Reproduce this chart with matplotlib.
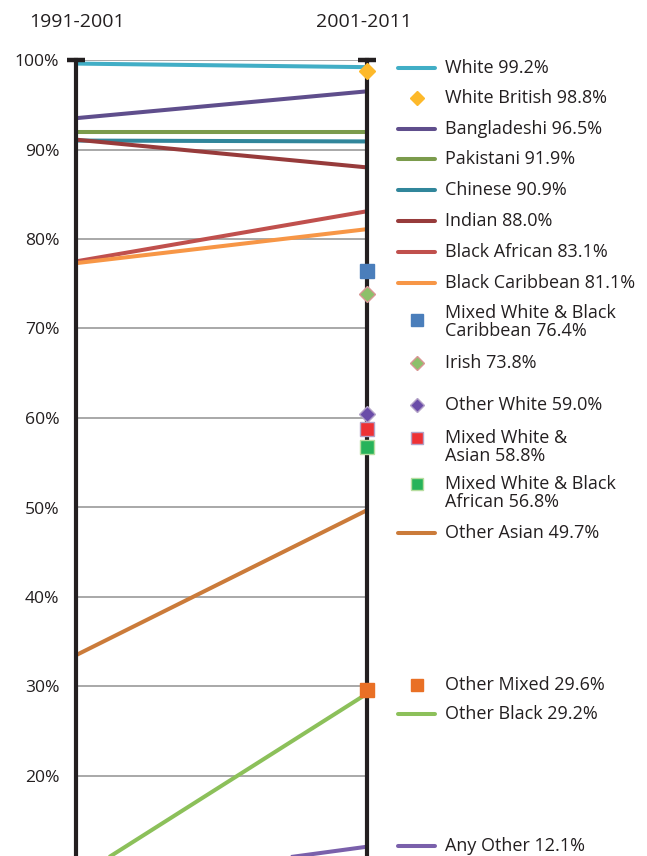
import matplotlib
matplotlib.use('Agg')
import matplotlib.pyplot as plt
from matplotlib.lines import Line2D

plt.rcParams['font.family'] = ['Open Sans', 'DejaVu Sans']

# periods on the x axis
periods = ['1991-2001', '2001-2011']

# groups drawn as lines (value at start, value at end)
line_names = ['White', 'Bangladeshi', 'Pakistani', 'Chinese', 'Indian',
              'Black African', 'Black Caribbean', 'Other Asian',
              'Other Black', 'Any Other']
line_start = [99.6, 93.5, 91.9, 91.0, 91.1, 77.5, 77.3, 33.5, 8.6, 7.7]
line_end = [99.2, 96.5, 91.9, 90.9, 88.0, 83.1, 81.1, 49.7, 29.2, 12.1]
line_colors = ['#41AEC6', '#5F4E8C', '#7B9B4C', '#31869B', '#973B3B',
               '#C0504D', '#F79646', '#CB7B3A', '#8CC05A', '#7A60AB']

# groups drawn only as a marker on the 2001-2011 axis
point_names = ['White British', 'Mixed White & Black Caribbean', 'Irish',
               'Other White', 'Mixed White & Asian',
               'Mixed White & Black African', 'Other Mixed']
point_end = [98.8, 76.4, 73.8, 60.5, 58.8, 56.8, 29.6]
point_markers = ['D', 's', 'D', 'D', 's', 's', 's']
point_colors = ['#FDB92A', '#4A7EBB', '#8DC06A', '#6A4CA8', '#EE3135',
                '#27B35A', '#E97025']
point_edges = ['#FDB92A', '#4A7EBB', '#D99694', '#B3A2C7', '#B3A2C7',
               '#B7DDA0', '#E97025']

yticks = [20, 30, 40, 50, 60, 70, 80, 90, 100]
ytick_labels = ['20%', '30%', '40%', '50%', '60%', '70%', '80%', '90%', '100%']

# legend rows, top to bottom: (label, kind, index into its group)
legend_rows = [
    ('White 99.2%', 'line', 0),
    ('White British 98.8%', 'point', 0),
    ('Bangladeshi 96.5%', 'line', 1),
    ('Pakistani 91.9%', 'line', 2),
    ('Chinese 90.9%', 'line', 3),
    ('Indian 88.0%', 'line', 4),
    ('Black African 83.1%', 'line', 5),
    ('Black Caribbean 81.1%', 'line', 6),
    ('Mixed White & Black\nCaribbean 76.4%', 'point', 1),
    ('Irish 73.8%', 'point', 2),
    ('Other White 59.0%', 'point', 3),
    ('Mixed White &\nAsian 58.8%', 'point', 4),
    ('Mixed White & Black\nAfrican 56.8%', 'point', 5),
    ('Other Asian 49.7%', 'line', 7),
    ('Other Mixed 29.6%', 'point', 6),
    ('Other Black 29.2%', 'line', 8),
    ('Any Other 12.1%', 'line', 9),
]
# legend layout in pixels from the top of the figure
legend_handle_y = [68, 98, 129, 159, 190, 221, 252, 283, 320, 363, 405,
                   438, 484, 533, 685, 714, 846]
legend_text_y = [68, 98, 129, 159, 190, 221, 252, 283, 322, 363, 405,
                 447, 493, 533, 685, 714, 846]

W, H = 647, 856
TEXT = '#231F20'
fig = plt.figure(figsize=(W / 100, H / 100), dpi=100)
ax = fig.add_axes([76 / W, 0, 291 / W, 1 - 60 / H])
ax.set_xlim(0, 1)
ax.set_ylim(100 - 796 / 8.95, 100)

for s in ax.spines.values():
    s.set_visible(False)
ax.set_xticks([])
ax.set_yticks(yticks)
ax.set_yticklabels(ytick_labels)
ax.tick_params(axis='y', length=0, pad=12, labelsize=12.6, labelcolor=TEXT)
ax.yaxis.grid(True, color='#A8A8A8', lw=1.4)
ax.set_axisbelow(True)

for start, end, c in zip(line_start, line_end, line_colors):
    ax.plot([0, 1], [start, end], color=c, lw=2.9, solid_capstyle='butt', zorder=3)

# the two period axes with caps at the top
for x in [0, 1]:
    ax.axvline(x, color=TEXT, lw=3, zorder=4, clip_on=False)
    ax.plot([x], [100], marker='_', ms=13, mew=3.2, color=TEXT, clip_on=False, zorder=4)

for v, m, c, e in zip(point_end, point_markers, point_colors, point_edges):
    ax.plot([1], [v], marker=m, ms=10 if m == 's' else 8.5, color=c, mec=e, mew=1,
            linestyle='none', clip_on=False, zorder=5)

fig.text(77 / W, 1 - 22 / H, periods[0], ha='center', va='center', fontsize=14, color=TEXT)
fig.text(364 / W, 1 - 22 / H, periods[1], ha='center', va='center', fontsize=14, color=TEXT)

# hand placed legend to the right of the chart
for (label, kind, i), hy, ty in zip(legend_rows, legend_handle_y, legend_text_y):
    yf = 1 - hy / H
    if kind == 'line':
        fig.add_artist(Line2D([398 / W, 435 / W], [yf, yf], transform=fig.transFigure,
                              color=line_colors[i], lw=2.9, solid_capstyle='round'))
    else:
        m = point_markers[i]
        fig.add_artist(Line2D([417 / W], [yf], transform=fig.transFigure, marker=m,
                              ms=8.5 if m == 's' else 7.5, color=point_colors[i],
                              mec=point_edges[i], mew=1, linestyle='none'))
    fig.text(445 / W, 1 - ty / H, label, ha='left', va='center', fontsize=13,
             color=TEXT, linespacing=1.05)

fig.savefig('out.png', dpi=100)
